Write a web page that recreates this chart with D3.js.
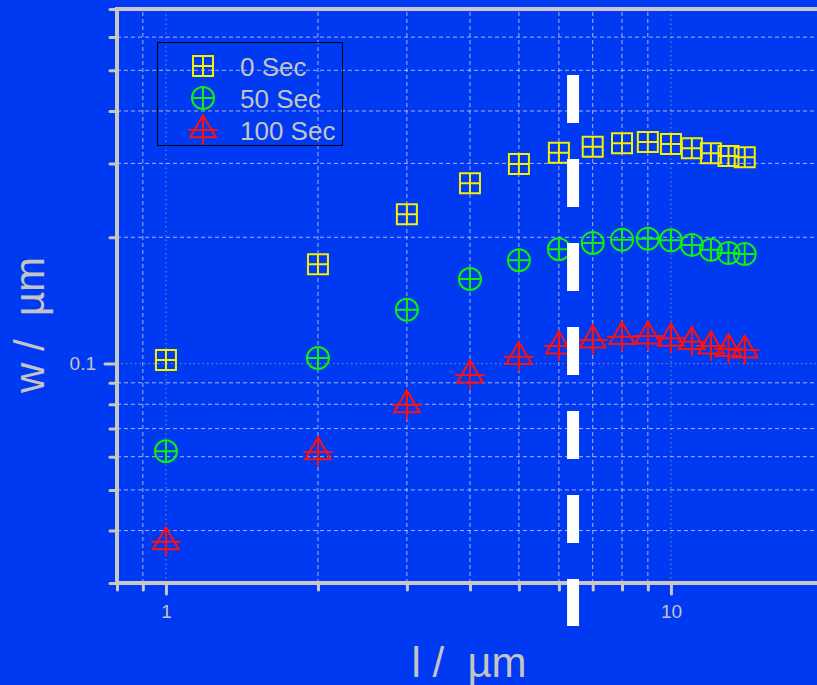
<!DOCTYPE html>
<html>
<head>
<meta charset="utf-8">
<script src="https://cdn.jsdelivr.net/npm/d3@7"></script>
<style>
    html, body { margin: 0; padding: 0; background: #0039f2; }
    svg { display: block; font-family: "Liberation Sans", Arial, sans-serif; }
</style>
</head>
<body>
<div class="d3-container"></div>
<script>
// data
var lengths = [1, 2, 3, 4, 5, 6, 7, 8, 9, 10, 11, 12, 13, 14];
var width0 = [0.102, 0.1724, 0.2269, 0.2689, 0.2990, 0.3182, 0.3287, 0.3350, 0.3374, 0.3337, 0.3260, 0.3171, 0.3124, 0.3102];
var width50 = [0.0618, 0.1031, 0.1344, 0.1591, 0.1763, 0.1873, 0.1939, 0.1974, 0.1985, 0.1967, 0.1918, 0.1868, 0.1834, 0.1824];
var width100 = [0.0376, 0.0616, 0.0797, 0.0939, 0.1039, 0.1101, 0.1138, 0.1159, 0.1163, 0.1149, 0.1128, 0.1101, 0.1085, 0.1077];
var seriesNames = ["0 Sec", "50 Sec", "100 Sec"];

// ticks
var xMajorTicks = [1, 10];
var xMinorTicks = [0.8, 0.9, 2, 3, 4, 5, 6, 7, 8, 9];
var yMajorTicks = [0.1];
var yMinorTicks = [0.03, 0.04, 0.05, 0.06, 0.07, 0.08, 0.09, 0.2, 0.3, 0.4, 0.5, 0.6, 0.7];

// dashed marker line (x position and vertical extent in data units)
var cutoffX = 6.4;
var cutoffRange = [0.487, 0.0237];

var W = 817, H = 685;
var plotLeft = 117, plotTop = 9, plotBottom = 583;

var axisColor = "#c8c8c8",
    textColor = "#c4c4c4",
    gridColor = "rgba(210,210,230,0.8)",
    gridMajorColor = "rgba(150,150,170,0.9)";

var x = d3.scaleLog().domain([0.8, 20]).range([plotLeft, plotLeft + 505 * Math.log10(25)]);
var y = d3.scaleLog().domain([0.03, 0.7]).range([plotBottom, plotTop]);

var svg = d3.select(".d3-container").append("svg")
    .attr("width", W)
    .attr("height", H);

svg.append("rect")
    .attr("width", W)
    .attr("height", H)
    .attr("fill", "#0039f2");

// grid lines
var grid = svg.append("g").attr("class", "grid");

grid.selectAll("line.vminor")
    .data(xMinorTicks.filter(function(d) { return d > 0.8; }))
    .enter().append("line")
    .attr("x1", function(d) { return x(d); })
    .attr("x2", function(d) { return x(d); })
    .attr("y1", plotBottom)
    .attr("y2", plotTop)
    .attr("stroke", gridColor)
    .attr("stroke-width", 1)
    .attr("stroke-dasharray", "4,3");

grid.selectAll("line.vmajor")
    .data(xMajorTicks)
    .enter().append("line")
    .attr("x1", function(d) { return x(d); })
    .attr("x2", function(d) { return x(d); })
    .attr("y1", plotBottom)
    .attr("y2", plotTop)
    .attr("stroke", gridMajorColor)
    .attr("stroke-width", 1)
    .attr("stroke-dasharray", "1.5,3");

grid.selectAll("line.hminor")
    .data(yMinorTicks.filter(function(d) { return d > 0.03 && d < 0.7; }))
    .enter().append("line")
    .attr("x1", plotLeft)
    .attr("x2", W)
    .attr("y1", function(d) { return y(d); })
    .attr("y2", function(d) { return y(d); })
    .attr("stroke", gridColor)
    .attr("stroke-width", 1)
    .attr("stroke-dasharray", "4,3");

grid.selectAll("line.hmajor")
    .data(yMajorTicks)
    .enter().append("line")
    .attr("x1", plotLeft)
    .attr("x2", W)
    .attr("y1", function(d) { return y(d); })
    .attr("y2", function(d) { return y(d); })
    .attr("stroke", gridMajorColor)
    .attr("stroke-width", 1)
    .attr("stroke-dasharray", "1.5,3");

// axes
var xAxisMinor = d3.axisBottom(x).tickValues(xMinorTicks).tickSize(7).tickFormat("");
var xAxisMajor = d3.axisBottom(x).tickValues(xMajorTicks).tickSize(11).tickPadding(11).tickFormat(d3.format("d"));
var yAxisMinor = d3.axisLeft(y).tickValues(yMinorTicks).tickSize(7).tickFormat("");
var yAxisMajor = d3.axisLeft(y).tickValues(yMajorTicks).tickSize(12).tickPadding(9).tickFormat(d3.format(".1f"));

function styleAxis(g) {
    g.select(".domain").remove();
    g.selectAll(".tick line")
        .attr("stroke", axisColor)
        .attr("stroke-width", 3)
        .attr("stroke-linecap", "round");
    g.selectAll(".tick text")
        .attr("fill", textColor)
        .attr("font-size", 19)
        .attr("font-family", "'Liberation Sans', Arial, sans-serif");
}

svg.append("g").attr("transform", "translate(0," + plotBottom + ")").call(xAxisMinor).call(styleAxis);
svg.append("g").attr("transform", "translate(0," + plotBottom + ")").call(xAxisMajor).call(styleAxis);
svg.append("g").attr("transform", "translate(" + plotLeft + ",0)").call(yAxisMinor).call(styleAxis);
svg.append("g").attr("transform", "translate(" + plotLeft + ",0)").call(yAxisMajor).call(styleAxis);

// frame
svg.append("path")
    .attr("d", "M" + x.range()[1] + "," + plotTop + "H" + plotLeft + "V" + plotBottom + "H" + x.range()[1])
    .attr("fill", "none")
    .attr("stroke", axisColor)
    .attr("stroke-width", 4);

// marker shapes, each with a cross through the centre
function squareMark(p) {
    var s = 10;
    p.moveTo(-s, -s); p.lineTo(s, -s); p.lineTo(s, s); p.lineTo(-s, s); p.closePath();
    p.moveTo(-s, 0); p.lineTo(s, 0);
    p.moveTo(0, -s); p.lineTo(0, s);
}
function circleMark(p) {
    var r = 11;
    p.moveTo(r, 0); p.arc(0, 0, r, 0, 2 * Math.PI);
    p.moveTo(-r, 0); p.lineTo(r, 0);
    p.moveTo(0, -r); p.lineTo(0, r);
}
function triangleMark(p) {
    var r = 14.7;
    p.moveTo(0, -r); p.lineTo(r * Math.sqrt(3) / 2, r / 2); p.lineTo(-r * Math.sqrt(3) / 2, r / 2); p.closePath();
    p.moveTo(-r, 0); p.lineTo(r, 0);
    p.moveTo(0, -r); p.lineTo(0, r);
}
function markPath(fn) {
    var p = d3.path();
    fn(p);
    return p.toString();
}

var series = [
    {name: seriesNames[0], values: width0, color: "#f4f000", shape: squareMark},
    {name: seriesNames[1], values: width50, color: "#10ee10", shape: circleMark},
    {name: seriesNames[2], values: width100, color: "#ff1010", shape: triangleMark}
];

series.forEach(function(s) {
    svg.append("g").selectAll("path")
        .data(lengths.map(function(l, i) { return [l, s.values[i]]; }))
        .enter().append("path")
        .attr("transform", function(d) { return "translate(" + x(d[0]) + "," + y(d[1]) + ")"; })
        .attr("d", markPath(s.shape))
        .attr("fill", "none")
        .attr("stroke", s.color)
        .attr("stroke-width", 2);
});

// thick white dashed marker line
svg.append("line")
    .attr("x1", x(cutoffX))
    .attr("x2", x(cutoffX))
    .attr("y1", y(cutoffRange[0]))
    .attr("y2", y(cutoffRange[1]))
    .attr("stroke", "#ffffff")
    .attr("stroke-width", 12)
    .attr("stroke-dasharray", "48,36");

// legend
var legend = svg.append("g").attr("class", "legend");
legend.append("rect")
    .attr("x", 157.5)
    .attr("y", 42.5)
    .attr("width", 185)
    .attr("height", 103)
    .attr("fill", "none")
    .attr("stroke", "#000")
    .attr("stroke-width", 1);

series.forEach(function(s, i) {
    var cy = 66 + i * 32;
    legend.append("path")
        .attr("transform", "translate(203," + cy + ")")
        .attr("d", markPath(s.shape))
        .attr("fill", "none")
        .attr("stroke", s.color)
        .attr("stroke-width", 2);
    legend.append("text")
        .attr("x", 240)
        .attr("y", cy + 10)
        .attr("fill", textColor)
        .attr("font-size", 26)
        .text(s.name);
});

// axis titles
svg.append("text")
    .attr("x", 469)
    .attr("y", 677)
    .attr("text-anchor", "middle")
    .attr("fill", textColor)
    .attr("font-size", 42)
    .attr("xml:space", "preserve")
    .text("l /  \u00b5m");

svg.append("text")
    .attr("transform", "translate(44,325) rotate(-90)")
    .attr("text-anchor", "middle")
    .attr("fill", textColor)
    .attr("font-size", 42)
    .attr("xml:space", "preserve")
    .text("w /  \u00b5m");
</script>
</body>
</html>
